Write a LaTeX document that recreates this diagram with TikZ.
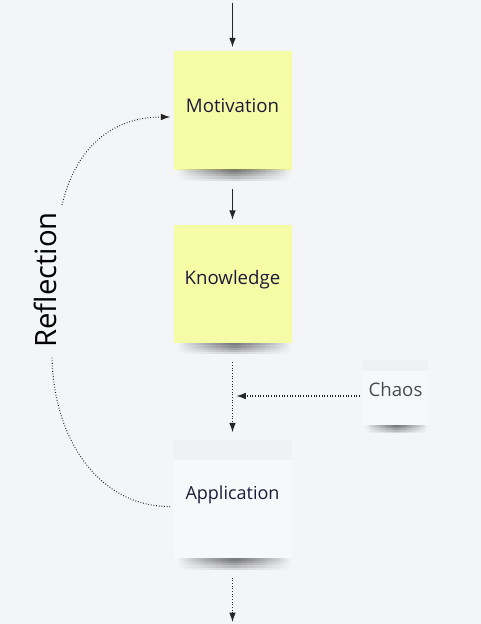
\documentclass[tikz,border=0pt]{standalone}
\usepackage{fontspec}
\setmainfont{Open Sans}
\usetikzlibrary{arrows.meta,calc,fadings}
\definecolor{bg}{HTML}{F4F5F7}
\definecolor{sticky}{HTML}{F6FBA6}
\definecolor{paper}{HTML}{F7F8FA}
\definecolor{paperband}{HTML}{F0F1F3}
\definecolor{ink}{HTML}{1E1A3A}
\definecolor{greyink}{HTML}{4A4A4A}
\tikzfading[name=sidefade, left color=transparent!100, right color=transparent!100, middle color=transparent!0]
\tikzset{
  note/.style={minimum width=88.5pt, minimum height=88.5pt, inner sep=0pt},
  yellownote/.style={note, fill=sticky},
  whitenote/.style={note, fill=paper},
  lbl/.style={font=\fontsize{14}{16}\selectfont, text=ink},
  conn/.style={draw=black!85, line width=0.8pt, -{Latex[length=7pt,width=5pt]}},
  dotconn/.style={conn, dash pattern=on 0.6pt off 1.4pt},
  shd/.style={fill=black, path fading=sidefade, opacity=0.13},
}
\newcommand{\notshadow}[3]{% node, left inset, height
  \foreach \h in {1,2,3,4,5}{
    \fill[shd] ($(#1.south west)+(#2,-0.5)$) rectangle ($(#1.south east)+(-1,{#3*\h/5})$);
  }
}
\begin{document}
\begin{tikzpicture}[x=0.75pt,y=-0.75pt]
\fill[bg] (0,0) rectangle (481,624);
\useasboundingbox (0,0) rectangle (481,624);

% shadows (drawn first, notes cover top part)
\coordinate (dummy) at (0,0);

% notes
\node[yellownote] (mot) at (232.5,110.5) {};
\node[yellownote] (kno) at (232.5,284) {};
\node[whitenote] (app) at (232.5,499.5) {};
\node[minimum width=48.75pt, minimum height=48.75pt, inner sep=0pt, fill=paper] (cha) at (395.5,392.5) {};

\notshadow{mot}{4}{11}
\notshadow{kno}{4}{11}
\notshadow{app}{4}{11}
\notshadow{cha}{2}{8}

% bands on white notes
\fill[paperband] (app.north west) rectangle ($(app.north east)+(0,20)$);
\fill[paperband] (cha.north west) rectangle ($(cha.north east)+(0,11)$);

% labels
\node[lbl] (motl) at (232.5,106) {Motivation};
\node[lbl] (knol) at (232.5,280) {Knowledge};
\node[lbl, font=\fontsize{13.5}{16}\selectfont] (appl) at (232.5,495) {Application};
\node[lbl, text=greyink] (chal) at (395.5,389) {Chaos};
\node[font=\fontsize{22}{26}\selectfont, text=black, rotate=90] (refl) at (45,280) {Reflection};

% connectors
\coordinate (topin) at (232.5,3);
\coordinate (botout) at (232.5,622);
\coordinate (merge) at (232.5,396);
\coordinate (reftop) at (62,205);
\coordinate (refbot) at (52,356);

\draw[conn] (topin) -- ($(mot.north)+(0,-4)$);
\draw[conn] ($(mot.south)+(0,19)$) -- ($(kno.north)+(0,-5)$);
\draw[dotconn] ($(kno.south)+(0,19)$) -- ($(app.north)+(0,-8)$);
\draw[dotconn] ($(cha.west)+(-3,3.5)$) -- ($(merge)+(4,0)$);
\draw[dotconn] ($(app.south)+(0,19)$) -- (botout);

\draw[dotconn, -] ($(app.west)+(-3,7)$) .. controls (100,507) and (53,440) .. (refbot);
\draw[dotconn] (reftop) .. controls (75,150) and (110,117) .. ($(mot.west)+(-3,6.5)$);
\end{tikzpicture}
\end{document}
